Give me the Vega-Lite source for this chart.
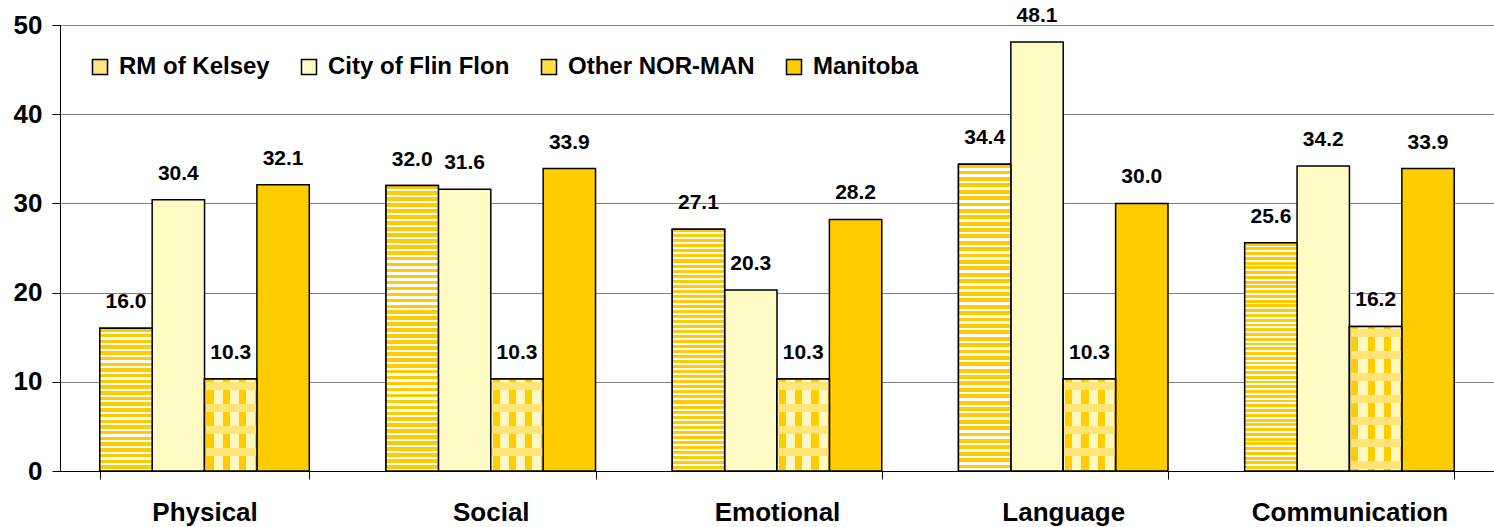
{
  "$schema": "https://vega.github.io/schema/vega-lite/v6.json",
  "width": 1434,
  "height": 446,
  "autosize": {"type": "none"},
  "padding": {"left": 60, "top": 25, "right": 0, "bottom": 56},
  "background": "white",
  "config": {
    "view": {"stroke": null},
    "font": "Liberation Sans",
    "axis": {"labelFont": "Liberation Sans", "labelFontWeight": "bold", "labelColor": "black", "title": null}
  },
  "data": {
    "values": [
      {"cat": "Physical", "series": "RM of Kelsey", "value": 16.0},
      {"cat": "Physical", "series": "City of Flin Flon", "value": 30.4},
      {"cat": "Physical", "series": "Other NOR-MAN", "value": 10.3},
      {"cat": "Physical", "series": "Manitoba", "value": 32.1},
      {"cat": "Social", "series": "RM of Kelsey", "value": 32.0},
      {"cat": "Social", "series": "City of Flin Flon", "value": 31.6},
      {"cat": "Social", "series": "Other NOR-MAN", "value": 10.3},
      {"cat": "Social", "series": "Manitoba", "value": 33.9},
      {"cat": "Emotional", "series": "RM of Kelsey", "value": 27.1},
      {"cat": "Emotional", "series": "City of Flin Flon", "value": 20.3},
      {"cat": "Emotional", "series": "Other NOR-MAN", "value": 10.3},
      {"cat": "Emotional", "series": "Manitoba", "value": 28.2},
      {"cat": "Language", "series": "RM of Kelsey", "value": 34.4},
      {"cat": "Language", "series": "City of Flin Flon", "value": 48.1},
      {"cat": "Language", "series": "Other NOR-MAN", "value": 10.3},
      {"cat": "Language", "series": "Manitoba", "value": 30.0},
      {"cat": "Communication", "series": "RM of Kelsey", "value": 25.6},
      {"cat": "Communication", "series": "City of Flin Flon", "value": 34.2},
      {"cat": "Communication", "series": "Other NOR-MAN", "value": 16.2},
      {"cat": "Communication", "series": "Manitoba", "value": 33.9}
    ]
  },
  "encoding": {
    "x": {
      "field": "cat", "type": "nominal",
      "sort": ["Physical", "Social", "Emotional", "Language", "Communication"],
      "scale": {"paddingInner": 0.268, "paddingOuter": 0.139},
      "axis": {"labelAngle": 0, "labelFontSize": 26, "labelPadding": 20, "labelLimit": 400, "tickSize": 8, "tickBand": "extent", "domainColor": "black", "tickColor": "black", "domainWidth": 1, "tickWidth": 1}
    },
    "xOffset": {
      "field": "series", "type": "nominal",
      "scale": {"domain": ["RM of Kelsey", "City of Flin Flon", "Other NOR-MAN", "Manitoba"], "paddingInner": 0, "paddingOuter": 0}
    },
    "y": {
      "field": "value", "type": "quantitative",
      "scale": {"domain": [0, 50], "nice": false},
      "axis": {"values": [0, 10, 20, 30, 40, 50], "labelFontSize": 26, "labelPadding": 10, "tickSize": 8, "grid": true, "gridColor": "#808080", "gridWidth": 1, "domainColor": "black", "tickColor": "black"}
    }
  },
  "layer": [
    {
      "mark": {"type": "bar", "stroke": "black", "strokeWidth": 1.5},
      "encoding": {
        "color": {
          "field": "series", "type": "nominal",
          "scale": {"domain": ["RM of Kelsey", "City of Flin Flon", "Other NOR-MAN", "Manitoba"], "range": ["#FFE680", "#FFFBC4", "#FFDD44", "#FFCC00"]},
          "legend": {
            "title": null, "orient": "none", "legendX": 28, "legendY": 30, "direction": "horizontal",
            "symbolType": "square", "symbolSize": 225, "symbolStrokeColor": "black", "symbolStrokeWidth": 1.5,
            "symbolOpacity": 1, "labelFontSize": 24, "labelFontWeight": "bold", "labelFont": "Liberation Sans", "labelColor": "black",
            "labelOffset": 7, "columnPadding": 27, "labelLimit": 400
          }
        }
      }
    },
    {
      "transform": [{"filter": "datum.series === 'RM of Kelsey' && datum.cat === 'Physical'"}],
      "mark": {"type": "bar", "stroke": "black", "strokeWidth": 1.5,
        "fill": {"gradient": "linear", "x1": 0, "y1": 0, "x2": 0, "y2": 1, "stops": [
          {"offset": 0, "color": "#fc0"}, {"offset": 0.024, "color": "#fc0"}, {"offset": 0.024, "color": "#fff"}, {"offset": 0.04, "color": "#fff"},
          {"offset": 0.04, "color": "#fc0"}, {"offset": 0.064, "color": "#fc0"}, {"offset": 0.064, "color": "#fff"}, {"offset": 0.08, "color": "#fff"},
          {"offset": 0.08, "color": "#fc0"}, {"offset": 0.104, "color": "#fc0"}, {"offset": 0.104, "color": "#fff"}, {"offset": 0.12, "color": "#fff"},
          {"offset": 0.12, "color": "#fc0"}, {"offset": 0.144, "color": "#fc0"}, {"offset": 0.144, "color": "#fff"}, {"offset": 0.16, "color": "#fff"},
          {"offset": 0.16, "color": "#fc0"}, {"offset": 0.184, "color": "#fc0"}, {"offset": 0.184, "color": "#fff"}, {"offset": 0.2, "color": "#fff"},
          {"offset": 0.2, "color": "#fc0"}, {"offset": 0.224, "color": "#fc0"}, {"offset": 0.224, "color": "#fff"}, {"offset": 0.24, "color": "#fff"},
          {"offset": 0.24, "color": "#fc0"}, {"offset": 0.264, "color": "#fc0"}, {"offset": 0.264, "color": "#fff"}, {"offset": 0.28, "color": "#fff"},
          {"offset": 0.28, "color": "#fc0"}, {"offset": 0.304, "color": "#fc0"}, {"offset": 0.304, "color": "#fff"}, {"offset": 0.32, "color": "#fff"},
          {"offset": 0.32, "color": "#fc0"}, {"offset": 0.344, "color": "#fc0"}, {"offset": 0.344, "color": "#fff"}, {"offset": 0.36, "color": "#fff"},
          {"offset": 0.36, "color": "#fc0"}, {"offset": 0.384, "color": "#fc0"}, {"offset": 0.384, "color": "#fff"}, {"offset": 0.4, "color": "#fff"},
          {"offset": 0.4, "color": "#fc0"}, {"offset": 0.424, "color": "#fc0"}, {"offset": 0.424, "color": "#fff"}, {"offset": 0.44, "color": "#fff"},
          {"offset": 0.44, "color": "#fc0"}, {"offset": 0.464, "color": "#fc0"}, {"offset": 0.464, "color": "#fff"}, {"offset": 0.48, "color": "#fff"},
          {"offset": 0.48, "color": "#fc0"}, {"offset": 0.504, "color": "#fc0"}, {"offset": 0.504, "color": "#fff"}, {"offset": 0.52, "color": "#fff"},
          {"offset": 0.52, "color": "#fc0"}, {"offset": 0.544, "color": "#fc0"}, {"offset": 0.544, "color": "#fff"}, {"offset": 0.56, "color": "#fff"},
          {"offset": 0.56, "color": "#fc0"}, {"offset": 0.584, "color": "#fc0"}, {"offset": 0.584, "color": "#fff"}, {"offset": 0.6, "color": "#fff"},
          {"offset": 0.6, "color": "#fc0"}, {"offset": 0.624, "color": "#fc0"}, {"offset": 0.624, "color": "#fff"}, {"offset": 0.64, "color": "#fff"},
          {"offset": 0.64, "color": "#fc0"}, {"offset": 0.664, "color": "#fc0"}, {"offset": 0.664, "color": "#fff"}, {"offset": 0.68, "color": "#fff"},
          {"offset": 0.68, "color": "#fc0"}, {"offset": 0.704, "color": "#fc0"}, {"offset": 0.704, "color": "#fff"}, {"offset": 0.72, "color": "#fff"},
          {"offset": 0.72, "color": "#fc0"}, {"offset": 0.744, "color": "#fc0"}, {"offset": 0.744, "color": "#fff"}, {"offset": 0.76, "color": "#fff"},
          {"offset": 0.76, "color": "#fc0"}, {"offset": 0.784, "color": "#fc0"}, {"offset": 0.784, "color": "#fff"}, {"offset": 0.8, "color": "#fff"},
          {"offset": 0.8, "color": "#fc0"}, {"offset": 0.824, "color": "#fc0"}, {"offset": 0.824, "color": "#fff"}, {"offset": 0.84, "color": "#fff"},
          {"offset": 0.84, "color": "#fc0"}, {"offset": 0.864, "color": "#fc0"}, {"offset": 0.864, "color": "#fff"}, {"offset": 0.88, "color": "#fff"},
          {"offset": 0.88, "color": "#fc0"}, {"offset": 0.904, "color": "#fc0"}, {"offset": 0.904, "color": "#fff"}, {"offset": 0.92, "color": "#fff"},
          {"offset": 0.92, "color": "#fc0"}, {"offset": 0.944, "color": "#fc0"}, {"offset": 0.944, "color": "#fff"}, {"offset": 0.96, "color": "#fff"},
          {"offset": 0.96, "color": "#fc0"}, {"offset": 0.984, "color": "#fc0"}, {"offset": 0.984, "color": "#fff"}, {"offset": 1, "color": "#fff"}
        ]}
      }
    },
    {
      "transform": [{"filter": "datum.series === 'RM of Kelsey' && datum.cat !== 'Physical'"}],
      "mark": {"type": "bar", "stroke": "black", "strokeWidth": 1.5,
        "fill": {"gradient": "linear", "x1": 0, "y1": 0, "x2": 0, "y2": 1, "stops": [
          {"offset": 0, "color": "#fc0"}, {"offset": 0.0125, "color": "#fc0"}, {"offset": 0.0125, "color": "#fff"}, {"offset": 0.0208, "color": "#fff"},
          {"offset": 0.0208, "color": "#fc0"}, {"offset": 0.0333, "color": "#fc0"}, {"offset": 0.0333, "color": "#fff"}, {"offset": 0.0417, "color": "#fff"},
          {"offset": 0.0417, "color": "#fc0"}, {"offset": 0.0542, "color": "#fc0"}, {"offset": 0.0542, "color": "#fff"}, {"offset": 0.0625, "color": "#fff"},
          {"offset": 0.0625, "color": "#fc0"}, {"offset": 0.075, "color": "#fc0"}, {"offset": 0.075, "color": "#fff"}, {"offset": 0.0833, "color": "#fff"},
          {"offset": 0.0833, "color": "#fc0"}, {"offset": 0.0958, "color": "#fc0"}, {"offset": 0.0958, "color": "#fff"}, {"offset": 0.1042, "color": "#fff"},
          {"offset": 0.1042, "color": "#fc0"}, {"offset": 0.1167, "color": "#fc0"}, {"offset": 0.1167, "color": "#fff"}, {"offset": 0.125, "color": "#fff"},
          {"offset": 0.125, "color": "#fc0"}, {"offset": 0.1375, "color": "#fc0"}, {"offset": 0.1375, "color": "#fff"}, {"offset": 0.1458, "color": "#fff"},
          {"offset": 0.1458, "color": "#fc0"}, {"offset": 0.1583, "color": "#fc0"}, {"offset": 0.1583, "color": "#fff"}, {"offset": 0.1667, "color": "#fff"},
          {"offset": 0.1667, "color": "#fc0"}, {"offset": 0.1792, "color": "#fc0"}, {"offset": 0.1792, "color": "#fff"}, {"offset": 0.1875, "color": "#fff"},
          {"offset": 0.1875, "color": "#fc0"}, {"offset": 0.2, "color": "#fc0"}, {"offset": 0.2, "color": "#fff"}, {"offset": 0.2083, "color": "#fff"},
          {"offset": 0.2083, "color": "#fc0"}, {"offset": 0.2208, "color": "#fc0"}, {"offset": 0.2208, "color": "#fff"}, {"offset": 0.2292, "color": "#fff"},
          {"offset": 0.2292, "color": "#fc0"}, {"offset": 0.2417, "color": "#fc0"}, {"offset": 0.2417, "color": "#fff"}, {"offset": 0.25, "color": "#fff"},
          {"offset": 0.25, "color": "#fc0"}, {"offset": 0.2625, "color": "#fc0"}, {"offset": 0.2625, "color": "#fff"}, {"offset": 0.2708, "color": "#fff"},
          {"offset": 0.2708, "color": "#fc0"}, {"offset": 0.2833, "color": "#fc0"}, {"offset": 0.2833, "color": "#fff"}, {"offset": 0.2917, "color": "#fff"},
          {"offset": 0.2917, "color": "#fc0"}, {"offset": 0.3042, "color": "#fc0"}, {"offset": 0.3042, "color": "#fff"}, {"offset": 0.3125, "color": "#fff"},
          {"offset": 0.3125, "color": "#fc0"}, {"offset": 0.325, "color": "#fc0"}, {"offset": 0.325, "color": "#fff"}, {"offset": 0.3333, "color": "#fff"},
          {"offset": 0.3333, "color": "#fc0"}, {"offset": 0.3458, "color": "#fc0"}, {"offset": 0.3458, "color": "#fff"}, {"offset": 0.3542, "color": "#fff"},
          {"offset": 0.3542, "color": "#fc0"}, {"offset": 0.3667, "color": "#fc0"}, {"offset": 0.3667, "color": "#fff"}, {"offset": 0.375, "color": "#fff"},
          {"offset": 0.375, "color": "#fc0"}, {"offset": 0.3875, "color": "#fc0"}, {"offset": 0.3875, "color": "#fff"}, {"offset": 0.3958, "color": "#fff"},
          {"offset": 0.3958, "color": "#fc0"}, {"offset": 0.4083, "color": "#fc0"}, {"offset": 0.4083, "color": "#fff"}, {"offset": 0.4167, "color": "#fff"},
          {"offset": 0.4167, "color": "#fc0"}, {"offset": 0.4292, "color": "#fc0"}, {"offset": 0.4292, "color": "#fff"}, {"offset": 0.4375, "color": "#fff"},
          {"offset": 0.4375, "color": "#fc0"}, {"offset": 0.45, "color": "#fc0"}, {"offset": 0.45, "color": "#fff"}, {"offset": 0.4583, "color": "#fff"},
          {"offset": 0.4583, "color": "#fc0"}, {"offset": 0.4708, "color": "#fc0"}, {"offset": 0.4708, "color": "#fff"}, {"offset": 0.4792, "color": "#fff"},
          {"offset": 0.4792, "color": "#fc0"}, {"offset": 0.4917, "color": "#fc0"}, {"offset": 0.4917, "color": "#fff"}, {"offset": 0.5, "color": "#fff"},
          {"offset": 0.5, "color": "#fc0"}, {"offset": 0.5125, "color": "#fc0"}, {"offset": 0.5125, "color": "#fff"}, {"offset": 0.5208, "color": "#fff"},
          {"offset": 0.5208, "color": "#fc0"}, {"offset": 0.5333, "color": "#fc0"}, {"offset": 0.5333, "color": "#fff"}, {"offset": 0.5417, "color": "#fff"},
          {"offset": 0.5417, "color": "#fc0"}, {"offset": 0.5542, "color": "#fc0"}, {"offset": 0.5542, "color": "#fff"}, {"offset": 0.5625, "color": "#fff"},
          {"offset": 0.5625, "color": "#fc0"}, {"offset": 0.575, "color": "#fc0"}, {"offset": 0.575, "color": "#fff"}, {"offset": 0.5833, "color": "#fff"},
          {"offset": 0.5833, "color": "#fc0"}, {"offset": 0.5958, "color": "#fc0"}, {"offset": 0.5958, "color": "#fff"}, {"offset": 0.6042, "color": "#fff"},
          {"offset": 0.6042, "color": "#fc0"}, {"offset": 0.6167, "color": "#fc0"}, {"offset": 0.6167, "color": "#fff"}, {"offset": 0.625, "color": "#fff"},
          {"offset": 0.625, "color": "#fc0"}, {"offset": 0.6375, "color": "#fc0"}, {"offset": 0.6375, "color": "#fff"}, {"offset": 0.6458, "color": "#fff"},
          {"offset": 0.6458, "color": "#fc0"}, {"offset": 0.6583, "color": "#fc0"}, {"offset": 0.6583, "color": "#fff"}, {"offset": 0.6667, "color": "#fff"},
          {"offset": 0.6667, "color": "#fc0"}, {"offset": 0.6792, "color": "#fc0"}, {"offset": 0.6792, "color": "#fff"}, {"offset": 0.6875, "color": "#fff"},
          {"offset": 0.6875, "color": "#fc0"}, {"offset": 0.7, "color": "#fc0"}, {"offset": 0.7, "color": "#fff"}, {"offset": 0.7083, "color": "#fff"},
          {"offset": 0.7083, "color": "#fc0"}, {"offset": 0.7208, "color": "#fc0"}, {"offset": 0.7208, "color": "#fff"}, {"offset": 0.7292, "color": "#fff"},
          {"offset": 0.7292, "color": "#fc0"}, {"offset": 0.7417, "color": "#fc0"}, {"offset": 0.7417, "color": "#fff"}, {"offset": 0.75, "color": "#fff"},
          {"offset": 0.75, "color": "#fc0"}, {"offset": 0.7625, "color": "#fc0"}, {"offset": 0.7625, "color": "#fff"}, {"offset": 0.7708, "color": "#fff"},
          {"offset": 0.7708, "color": "#fc0"}, {"offset": 0.7833, "color": "#fc0"}, {"offset": 0.7833, "color": "#fff"}, {"offset": 0.7917, "color": "#fff"},
          {"offset": 0.7917, "color": "#fc0"}, {"offset": 0.8042, "color": "#fc0"}, {"offset": 0.8042, "color": "#fff"}, {"offset": 0.8125, "color": "#fff"},
          {"offset": 0.8125, "color": "#fc0"}, {"offset": 0.825, "color": "#fc0"}, {"offset": 0.825, "color": "#fff"}, {"offset": 0.8333, "color": "#fff"},
          {"offset": 0.8333, "color": "#fc0"}, {"offset": 0.8458, "color": "#fc0"}, {"offset": 0.8458, "color": "#fff"}, {"offset": 0.8542, "color": "#fff"},
          {"offset": 0.8542, "color": "#fc0"}, {"offset": 0.8667, "color": "#fc0"}, {"offset": 0.8667, "color": "#fff"}, {"offset": 0.875, "color": "#fff"},
          {"offset": 0.875, "color": "#fc0"}, {"offset": 0.8875, "color": "#fc0"}, {"offset": 0.8875, "color": "#fff"}, {"offset": 0.8958, "color": "#fff"},
          {"offset": 0.8958, "color": "#fc0"}, {"offset": 0.9083, "color": "#fc0"}, {"offset": 0.9083, "color": "#fff"}, {"offset": 0.9167, "color": "#fff"},
          {"offset": 0.9167, "color": "#fc0"}, {"offset": 0.9292, "color": "#fc0"}, {"offset": 0.9292, "color": "#fff"}, {"offset": 0.9375, "color": "#fff"},
          {"offset": 0.9375, "color": "#fc0"}, {"offset": 0.95, "color": "#fc0"}, {"offset": 0.95, "color": "#fff"}, {"offset": 0.9583, "color": "#fff"},
          {"offset": 0.9583, "color": "#fc0"}, {"offset": 0.9708, "color": "#fc0"}, {"offset": 0.9708, "color": "#fff"}, {"offset": 0.9792, "color": "#fff"},
          {"offset": 0.9792, "color": "#fc0"}, {"offset": 0.9917, "color": "#fc0"}, {"offset": 0.9917, "color": "#fff"}, {"offset": 1, "color": "#fff"}
        ]}
      }
    },
    {
      "transform": [{"filter": "datum.series === 'Other NOR-MAN'"}],
      "mark": {"type": "bar", "strokeWidth": 0,
        "fill": {"gradient": "linear", "x1": 0, "y1": 0, "x2": 1, "y2": 0, "stops": [
          {"offset": 0, "color": "#fff8c0"}, {"offset": 0.034, "color": "#fff8c0"}, {"offset": 0.034, "color": "#fc0"}, {"offset": 0.172, "color": "#fc0"},
          {"offset": 0.172, "color": "#fff8c0"}, {"offset": 0.345, "color": "#fff8c0"}, {"offset": 0.345, "color": "#fc0"}, {"offset": 0.483, "color": "#fc0"},
          {"offset": 0.483, "color": "#fff8c0"}, {"offset": 0.655, "color": "#fff8c0"}, {"offset": 0.655, "color": "#fc0"}, {"offset": 0.793, "color": "#fc0"},
          {"offset": 0.793, "color": "#fff8c0"}, {"offset": 0.966, "color": "#fff8c0"}, {"offset": 0.966, "color": "#fc0"}, {"offset": 1, "color": "#fc0"}
        ]}
      }
    },
    {
      "transform": [{"filter": "datum.series === 'Other NOR-MAN' && datum.cat !== 'Communication'"}],
      "mark": {"type": "bar", "stroke": "black", "strokeWidth": 1.5,
        "fill": {"gradient": "linear", "x1": 0, "y1": 0, "x2": 0, "y2": 1, "stops": [
          {"offset": 0, "color": "rgba(255,230,120,0)"}, {"offset": 0.033, "color": "rgba(255,230,120,0)"}, {"offset": 0.033, "color": "#ffe478"}, {"offset": 0.12, "color": "#ffe478"},
          {"offset": 0.12, "color": "rgba(255,230,120,0)"}, {"offset": 0.272, "color": "rgba(255,230,120,0)"}, {"offset": 0.272, "color": "#ffe478"}, {"offset": 0.359, "color": "#ffe478"},
          {"offset": 0.359, "color": "rgba(255,230,120,0)"}, {"offset": 0.511, "color": "rgba(255,230,120,0)"}, {"offset": 0.511, "color": "#ffe478"}, {"offset": 0.598, "color": "#ffe478"},
          {"offset": 0.598, "color": "rgba(255,230,120,0)"}, {"offset": 0.75, "color": "rgba(255,230,120,0)"}, {"offset": 0.75, "color": "#ffe478"}, {"offset": 0.837, "color": "#ffe478"},
          {"offset": 0.837, "color": "rgba(255,230,120,0)"}, {"offset": 0.989, "color": "rgba(255,230,120,0)"}, {"offset": 0.989, "color": "#ffe478"}, {"offset": 1, "color": "#ffe478"}
        ]}
      }
    },
    {
      "transform": [{"filter": "datum.series === 'Other NOR-MAN' && datum.cat === 'Communication'"}],
      "mark": {"type": "bar", "stroke": "black", "strokeWidth": 1.5,
        "fill": {"gradient": "linear", "x1": 0, "y1": 0, "x2": 0, "y2": 1, "stops": [
          {"offset": 0, "color": "rgba(255,230,120,0)"}, {"offset": 0.02, "color": "rgba(255,230,120,0)"}, {"offset": 0.02, "color": "#ffe478"}, {"offset": 0.075, "color": "#ffe478"},
          {"offset": 0.075, "color": "rgba(255,230,120,0)"}, {"offset": 0.172, "color": "rgba(255,230,120,0)"}, {"offset": 0.172, "color": "#ffe478"}, {"offset": 0.228, "color": "#ffe478"},
          {"offset": 0.228, "color": "rgba(255,230,120,0)"}, {"offset": 0.324, "color": "rgba(255,230,120,0)"}, {"offset": 0.324, "color": "#ffe478"}, {"offset": 0.379, "color": "#ffe478"},
          {"offset": 0.379, "color": "rgba(255,230,120,0)"}, {"offset": 0.476, "color": "rgba(255,230,120,0)"}, {"offset": 0.476, "color": "#ffe478"}, {"offset": 0.531, "color": "#ffe478"},
          {"offset": 0.531, "color": "rgba(255,230,120,0)"}, {"offset": 0.628, "color": "rgba(255,230,120,0)"}, {"offset": 0.628, "color": "#ffe478"}, {"offset": 0.683, "color": "#ffe478"},
          {"offset": 0.683, "color": "rgba(255,230,120,0)"}, {"offset": 0.779, "color": "rgba(255,230,120,0)"}, {"offset": 0.779, "color": "#ffe478"}, {"offset": 0.834, "color": "#ffe478"},
          {"offset": 0.834, "color": "rgba(255,230,120,0)"}, {"offset": 0.931, "color": "rgba(255,230,120,0)"}, {"offset": 0.931, "color": "#ffe478"}, {"offset": 0.986, "color": "#ffe478"},
          {"offset": 0.986, "color": "rgba(255,230,120,0)"}, {"offset": 1, "color": "rgba(255,230,120,0)"}
        ]}
      }
    },
    {
      "mark": {"type": "text", "baseline": "alphabetic", "align": "center", "dy": -20, "fontSize": 21, "fontWeight": "bold", "font": "Liberation Sans", "color": "black"},
      "encoding": {"text": {"field": "value", "type": "quantitative", "format": ".1f"}}
    }
  ]
}
